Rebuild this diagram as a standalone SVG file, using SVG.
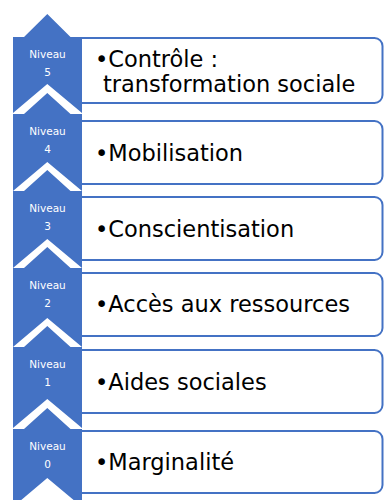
<svg xmlns="http://www.w3.org/2000/svg" width="385" height="500" viewBox="0 0 385 500">
  <style>
    .box { fill: #ffffff; stroke: #4472C4; stroke-width: 2; }
    .chev { fill: #4472C4; }
    .lvl { font-family: "DejaVu Sans", Verdana, sans-serif; font-size: 10.5px; fill: #ffffff; text-anchor: middle; }
    .txt { font-family: "DejaVu Sans", Verdana, sans-serif; font-size: 22.5px; fill: #000000; }
  </style>
  <rect width="385" height="500" fill="#ffffff"/>
  <g id="connectors"></g>
  <g id="level5">
    <path class="box" d="M78,38 H374.5 A8,8 0 0 1 382.5,46 V95 A8,8 0 0 1 374.5,103 H78 Z"/>
    <path class="chev" d="M47.3,14 L70.5,37 L82,37 L82,113 L47.3,84 L13,113 L13,37 L24,37 Z"/>
    <text class="lvl" x="47.5" y="58">Niveau</text>
    <text class="lvl" x="47.5" y="76">5</text>
    <text class="txt" x="95" y="67">•Contrôle :</text>
    <text class="txt" x="103" y="92">transformation sociale</text>
  </g>
  <g id="level4">
    <path class="box" d="M78,121 H374.5 A8,8 0 0 1 382.5,129 V176 A8,8 0 0 1 374.5,184 H78 Z"/>
    <path class="chev" d="M47.3,93 L70.5,114 L82,114 L82,191 L47.3,162 L13,191 L13,114 L24,114 Z"/>
    <text class="lvl" x="47.5" y="135">Niveau</text>
    <text class="lvl" x="47.5" y="153">4</text>
    <text class="txt" x="95" y="160.5">•Mobilisation</text>
  </g>
  <g id="level3">
    <path class="box" d="M78,197 H374.5 A8,8 0 0 1 382.5,205 V252 A8,8 0 0 1 374.5,260 H78 Z"/>
    <path class="chev" d="M47.3,170 L70.5,191 L82,191 L82,268 L47.3,239 L13,268 L13,191 L24,191 Z"/>
    <text class="lvl" x="47.5" y="212">Niveau</text>
    <text class="lvl" x="47.5" y="230">3</text>
    <text class="txt" x="95" y="236.5">•Conscientisation</text>
  </g>
  <g id="level2">
    <path class="box" d="M78,273 H374.5 A8,8 0 0 1 382.5,281 V328 A8,8 0 0 1 374.5,336 H78 Z"/>
    <path class="chev" d="M47.3,247 L70.5,268 L82,268 L82,347 L47.3,318 L13,347 L13,268 L24,268 Z"/>
    <text class="lvl" x="47.5" y="289">Niveau</text>
    <text class="lvl" x="47.5" y="307">2</text>
    <text class="txt" x="95" y="311.5">•Accès aux ressources</text>
  </g>
  <g id="level1">
    <path class="box" d="M78,350 H374.5 A8,8 0 0 1 382.5,358 V405 A8,8 0 0 1 374.5,413 H78 Z"/>
    <path class="chev" d="M47.3,326 L70.5,347 L82,347 L82,428 L47.3,399 L13,428 L13,347 L24,347 Z"/>
    <text class="lvl" x="47.5" y="368">Niveau</text>
    <text class="lvl" x="47.5" y="386">1</text>
    <text class="txt" x="95" y="390">•Aides sociales</text>
  </g>
  <g id="level0">
    <path class="box" d="M78,431 H374.5 A8,8 0 0 1 382.5,439 V485 A8,8 0 0 1 374.5,493 H78 Z"/>
    <path class="chev" d="M47.3,408 L70.5,429 L82,429 L82,507 L47.3,478 L13,507 L13,429 L24,429 Z"/>
    <text class="lvl" x="47.5" y="450">Niveau</text>
    <text class="lvl" x="47.5" y="468">0</text>
    <text class="txt" x="95" y="470">•Marginalité</text>
  </g>
</svg>
